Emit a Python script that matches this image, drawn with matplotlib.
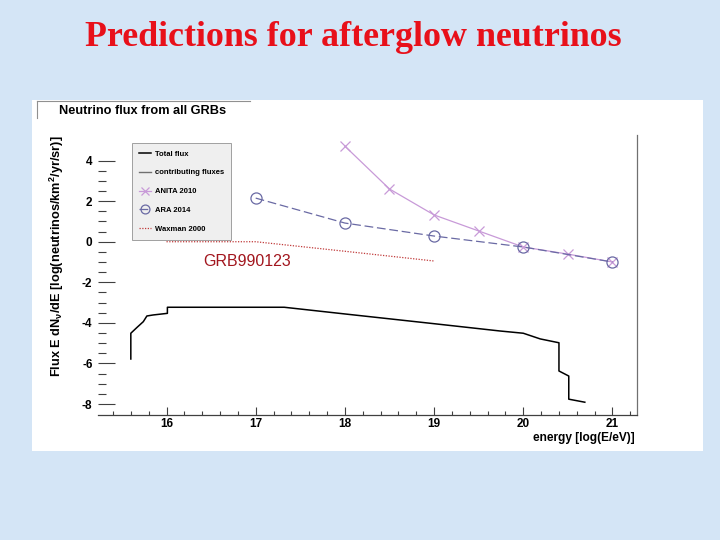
import matplotlib
matplotlib.use("Agg")
import matplotlib.pyplot as plt
from matplotlib.patches import Rectangle
from matplotlib.lines import Line2D
from matplotlib.ticker import MultipleLocator, FixedLocator

plt.rcParams['font.family'] = ['Liberation Sans', 'DejaVu Sans']
plt.rcParams['mathtext.fontset'] = 'custom'
plt.rcParams['mathtext.rm'] = 'Liberation Sans:bold'
plt.rcParams['mathtext.it'] = 'Liberation Sans:bold'
plt.rcParams['mathtext.bf'] = 'Liberation Sans:bold'
plt.rcParams['axes.unicode_minus'] = False

# ---------------- data ----------------
anita_E = [18.0, 18.5, 19.0, 19.5, 20.0, 20.5, 21.0]
anita_F = [4.71, 2.60, 1.32, 0.53, -0.26, -0.61, -1.00]

ara_E = [17.0, 18.0, 19.0, 20.0, 21.0]
ara_F = [2.15, 0.92, 0.28, -0.26, -1.00]

waxman_E = [16.0, 17.0, 18.0, 19.0]
waxman_F = [0.0, 0.0, -0.47, -0.95]

total_E = [15.60, 15.60, 15.67, 15.74, 15.78, 15.85, 15.95, 16.01, 16.01,
           17.32, 18.0, 19.0, 19.74, 20.0, 20.19, 20.40, 20.40, 20.51, 20.51, 20.69]
total_F = [-5.78, -4.51, -4.22, -3.94, -3.66, -3.61, -3.56, -3.53, -3.23,
           -3.23, -3.56, -4.04, -4.40, -4.51, -4.79, -4.98, -6.37, -6.62, -7.76, -7.91]

y_minor_ticks = [-8.0, -7.5, -7.0, -6.5, -6.0, -5.5, -5.0, -4.5, -4.0, -3.5, -3.0,
                 -2.5, -2.0, -1.5, -1.0, -0.5, 0.0, 0.5, 1.0, 1.5, 2.0, 2.5, 3.0,
                 3.5, 4.0]

legend_labels = ["Total flux", "contributing fluxes", "ANITA 2010", "ARA 2014", "Waxman 2000"]

W, H = 720, 540
fig = plt.figure(figsize=(7.2, 5.4), dpi=100)
fig.patch.set_facecolor('#d4e5f6')

def fx(px):
    return px / W

def fy(py):
    return 1 - py / H

# white panel
fig.patches.append(Rectangle((fx(32), fy(451)), (703 - 32) / W, (451 - 100) / H,
                             transform=fig.transFigure, facecolor='white',
                             edgecolor='none', zorder=-5))

# slide title
fig.text(fx(353), fy(37), "Predictions for afterglow neutrinos",
         family=['Liberation Serif'], weight='bold', fontsize=25.8, color='#e8101a',
         ha='center', va='center')

# ROOT-like title pave
fig.add_artist(Line2D([fx(37), fx(250)], [fy(101), fy(101)], color='#909090', lw=0.8))
fig.add_artist(Line2D([fx(37), fx(37)], [fy(101), fy(118)], color='#909090', lw=0.8))
fig.text(fx(59), fy(111), "Neutrino flux from all GRBs", weight='bold', fontsize=9.2,
         ha='left', va='center', color='black')

ax = fig.add_axes([fx(98), fy(415), (637 - 98) / W, (415 - 135) / H])
ax.set_zorder(1)
ax.set_facecolor('none')
ax.set_xlim(15.232, 21.275)
ax.set_ylim(-8.54, 5.26)

l_total, = ax.plot(total_E, total_F, color='black', lw=1.1, label=legend_labels[0])
l_contrib = Line2D([], [], color='#707070', lw=1.0, label=legend_labels[1])
l_anita, = ax.plot(anita_E, anita_F, color='#c89ad8', lw=0.9, marker='x', ms=7,
                   mew=0.9, label=legend_labels[2])
l_ara, = ax.plot(ara_E, ara_F, color='#6a6aa4', lw=0.9, ls=(0, (7, 3)), marker='o',
                 ms=8, mfc='none', mew=0.9, label=legend_labels[3])
l_wax, = ax.plot(waxman_E, waxman_F, color='#c03a3a', lw=0.9, ls=(0, (1, 1.2)),
                 label=legend_labels[4])

for s in ['left', 'top']:
    ax.spines[s].set_visible(False)
ax.spines['bottom'].set_color('#404040')
ax.spines['right'].set_color('#707070')
ax.spines['bottom'].set_linewidth(0.9)
ax.spines['right'].set_linewidth(0.9)

ax.xaxis.set_major_locator(MultipleLocator(1))
ax.xaxis.set_minor_locator(MultipleLocator(0.2))
ax.yaxis.set_major_locator(MultipleLocator(2))
ax.yaxis.set_minor_locator(FixedLocator(y_minor_ticks))
ax.tick_params(axis='x', which='major', direction='in', length=5.8, width=0.8,
               color='#404040', pad=2, labelsize=8.5)
ax.tick_params(axis='x', which='minor', direction='in', length=2.9, width=0.8,
               color='#404040')
ax.tick_params(axis='y', which='major', direction='in', length=12, width=0.8,
               color='#404040', pad=4, labelsize=8.5)
ax.tick_params(axis='y', which='minor', direction='in', length=6, width=0.8,
               color='#404040')
for lab in ax.get_xticklabels() + ax.get_yticklabels():
    lab.set_fontweight('bold')

fig.text(fx(635), fy(438), "energy [log(E/eV)]", weight='bold', fontsize=8.6,
         ha='right', va='center')
fig.text(fx(57), fy(135), r"Flux E dN$_{\nu}$/dE [log(neutrinos/km$^{2}$/yr/sr)]",
         weight='bold', fontsize=9.2, rotation=90, ha='center', va='top')

leg = ax.legend(handles=[l_total, l_contrib, l_anita, l_ara, l_wax],
                loc='upper left', bbox_to_anchor=(fx(132), fy(143)),
                bbox_transform=fig.transFigure, frameon=True, fancybox=False,
                prop={'weight': 'bold', 'size': 5.5}, labelspacing=1.5,
                handlelength=1.6, handletextpad=0.4, borderpad=0.95,
                borderaxespad=0, markerscale=0.8)
leg.get_frame().set_facecolor('#efefef')
leg.get_frame().set_edgecolor('#a0a0a0')
leg.get_frame().set_linewidth(0.7)
leg.get_frame().set_alpha(1)

fig.text(fx(203), fy(261), "GRB990123", fontsize=11.5, color='#a2161e',
         ha='left', va='center')

fig.savefig("out.png", dpi=100, facecolor=fig.get_facecolor())
